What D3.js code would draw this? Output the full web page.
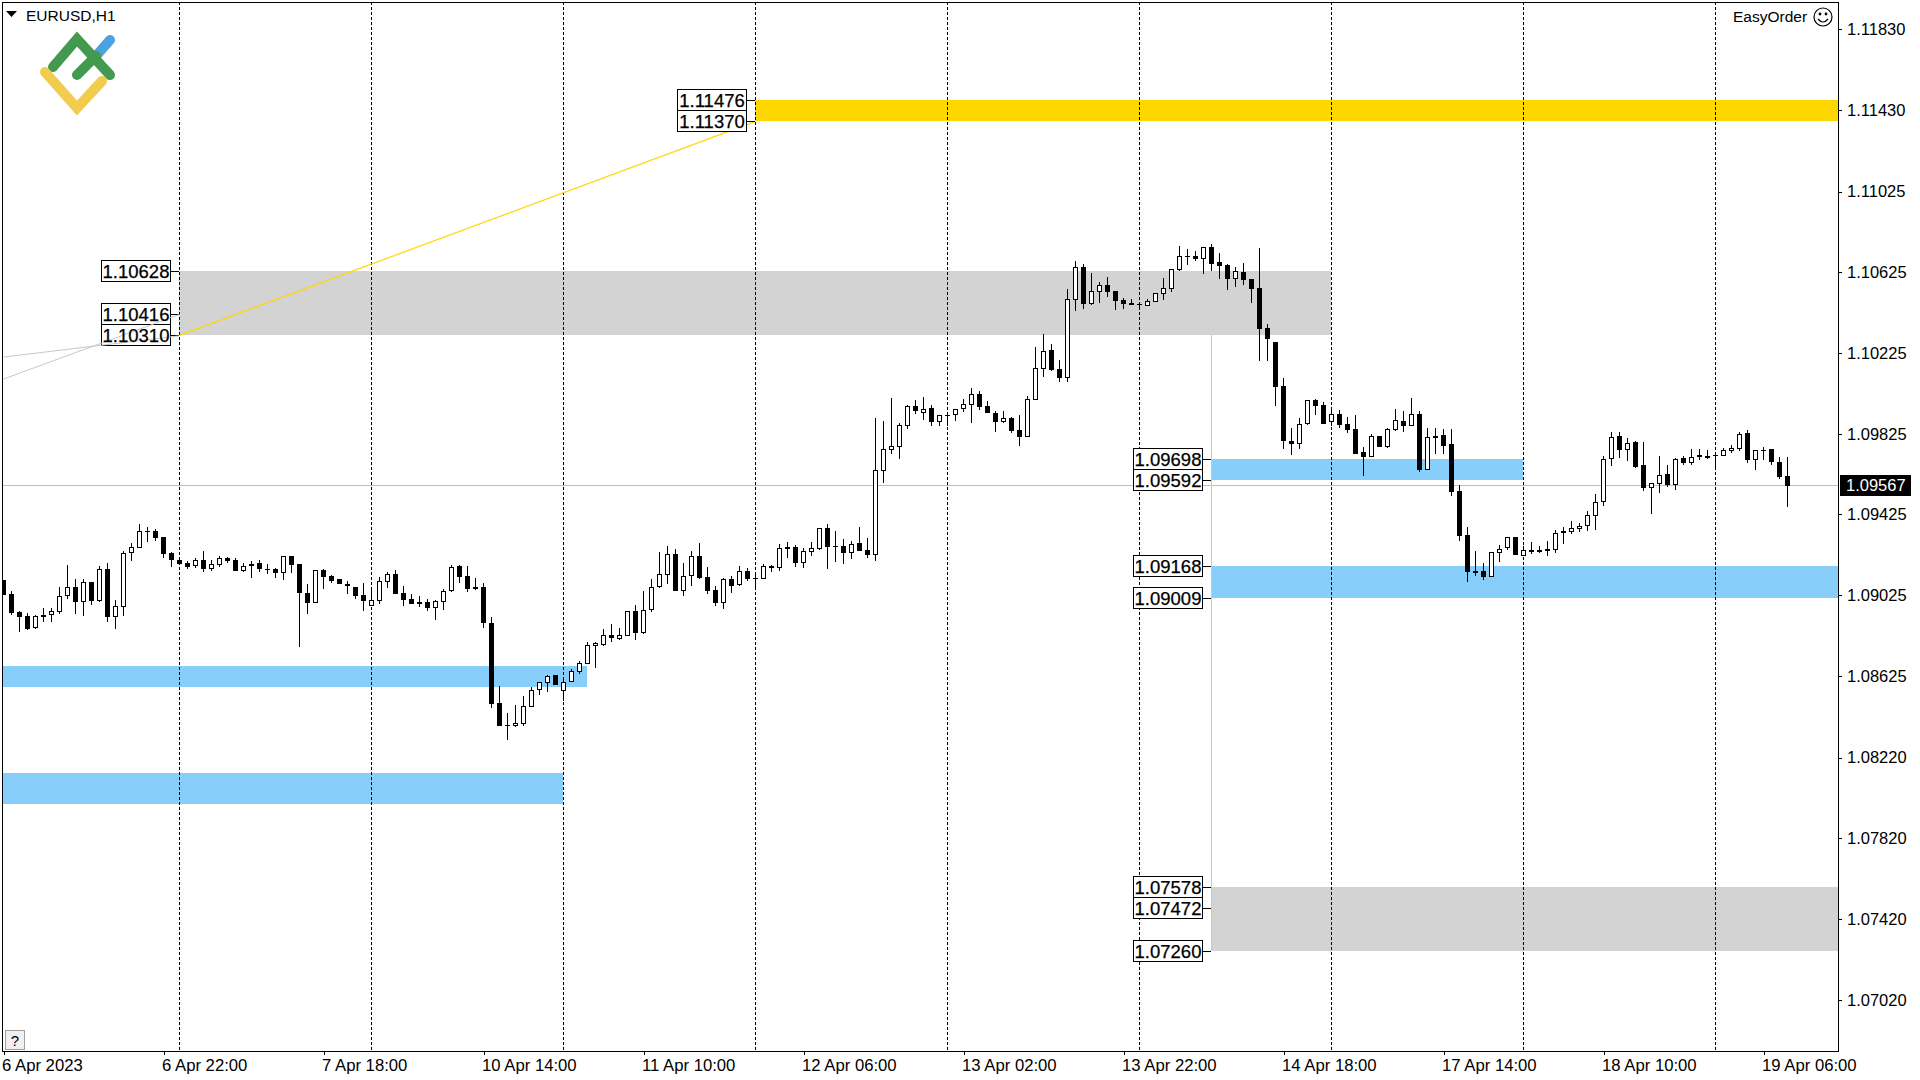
<!DOCTYPE html>
<html>
<head>
<meta charset="utf-8">
<script src="https://cdn.jsdelivr.net/npm/d3@7/dist/d3.min.js"></script>
<style>
html,body{margin:0;padding:0;background:#fff;overflow:hidden}
svg{display:block}
text{font-family:"Liberation Sans",Arial,sans-serif;fill:#000}
</style>
</head>
<body>
<div id="chart"></div>
<script>
const symbolTitle = "EURUSD,H1";
const expertName = "EasyOrder";
const opens = [1.09100,1.09030,1.08941,1.08921,1.08862,1.08926,1.08928,1.08941,1.09022,1.09065,
1.08991,1.09090,1.08996,1.09154,1.08918,1.08968,1.09232,1.09260,1.09341,1.09343,
1.09313,1.09234,1.09199,1.09184,1.09171,1.09199,1.09156,1.09174,1.09209,1.09199,
1.09146,1.09172,1.09184,1.09157,1.09154,1.09136,1.09219,1.09179,1.09035,1.08987,
1.09148,1.09119,1.09105,1.09080,1.09065,1.09025,1.08972,1.08997,1.09091,1.09129,
1.09035,1.09005,1.08991,1.08991,1.08963,1.08992,1.09047,1.09169,1.09119,1.09065,
1.09064,1.08887,1.08490,1.08378,1.08378,1.08386,1.08472,1.08556,1.08591,1.08629,
1.08551,1.08596,1.08646,1.08685,1.08774,1.08779,1.08827,1.08809,1.08824,1.08946,
1.08839,1.08953,1.09067,1.09126,1.09231,1.09047,1.09122,1.09217,1.09115,1.09051,
1.08988,1.09105,1.09077,1.09145,1.09107,1.09107,1.09170,1.09161,1.09264,1.09264,
1.09186,1.09241,1.09255,1.09358,1.09264,1.09269,1.09234,1.09284,1.09249,1.09226,
1.09641,1.09745,1.09760,1.09864,1.09962,1.09929,1.09952,1.09884,1.09917,1.09919,
1.09949,1.09968,1.10021,1.09962,1.09928,1.09885,1.09903,1.09844,1.09811,1.09994,
1.10148,1.10240,1.10146,1.10103,1.10489,1.10651,1.10468,1.10529,1.10562,1.10532,
1.10488,1.10471,1.10465,1.10460,1.10480,1.10519,1.10544,1.10637,1.10704,1.10706,
1.10693,1.10751,1.10676,1.10661,1.10592,1.10627,1.10592,1.10547,1.10349,1.10280,
1.10062,1.09789,1.09774,1.09873,1.09992,1.09967,1.09885,1.09923,1.09873,1.09849,
1.09735,1.09711,1.09814,1.09759,1.09845,1.09888,1.09865,1.09922,1.09646,1.09805,
1.09818,1.09773,1.09541,1.09322,1.09144,1.09144,1.09116,1.09235,1.09260,1.09313,
1.09220,1.09251,1.09248,1.09253,1.09250,1.09342,1.09339,1.09354,1.09369,1.09418,
1.09488,1.09701,1.09813,1.09744,1.09782,1.09669,1.09557,1.09577,1.09625,1.09572,
1.09704,1.09681,1.09719,1.09706,1.09716,1.09716,1.09740,1.09750,1.09828,1.09694,
1.09740,1.09749,1.09684,1.09615];
const highs = [1.09100,1.09045,1.08946,1.08935,1.08926,1.08961,1.08961,1.09065,1.09174,1.09105,
1.09105,1.09090,1.09169,1.09184,1.09001,1.09244,1.09283,1.09377,1.09363,1.09353,
1.09313,1.09239,1.09199,1.09194,1.09209,1.09244,1.09199,1.09219,1.09214,1.09209,
1.09187,1.09192,1.09199,1.09179,1.09159,1.09219,1.09219,1.09179,1.09080,1.09148,
1.09154,1.09124,1.09105,1.09095,1.09065,1.09085,1.09050,1.09115,1.09139,1.09149,
1.09070,1.09030,1.09020,1.09005,1.09001,1.09055,1.09174,1.09174,1.09169,1.09110,
1.09085,1.08917,1.08575,1.08441,1.08480,1.08525,1.08570,1.08594,1.08629,1.08629,
1.08614,1.08659,1.08698,1.08793,1.08793,1.08857,1.08882,1.08862,1.08946,1.08976,
1.09045,1.09105,1.09239,1.09269,1.09256,1.09184,1.09244,1.09284,1.09165,1.09070,
1.09110,1.09120,1.09170,1.09160,1.09140,1.09179,1.09174,1.09279,1.09288,1.09274,
1.09259,1.09288,1.09358,1.09378,1.09343,1.09303,1.09293,1.09363,1.09308,1.09902,
1.09887,1.10001,1.09878,1.09967,1.09992,1.10006,1.09967,1.09920,1.09920,1.09950,
1.09996,1.10051,1.10036,1.09987,1.09938,1.09938,1.09908,1.09918,1.10012,1.10255,
1.10319,1.10270,1.10190,1.10542,1.10681,1.10666,1.10622,1.10577,1.10602,1.10532,
1.10498,1.10493,1.10473,1.10493,1.10523,1.10597,1.10641,1.10755,1.10741,1.10731,
1.10751,1.10765,1.10721,1.10666,1.10651,1.10671,1.10592,1.10746,1.10369,1.10280,
1.10101,1.09853,1.09903,1.09992,1.09997,1.09982,1.09943,1.09943,1.09908,1.09918,
1.09759,1.09824,1.09814,1.09852,1.09948,1.09938,1.10002,1.09937,1.09853,1.09853,
1.09848,1.09848,1.09570,1.09362,1.09243,1.09184,1.09237,1.09273,1.09313,1.09313,
1.09268,1.09288,1.09268,1.09293,1.09347,1.09362,1.09392,1.09382,1.09441,1.09526,
1.09714,1.09833,1.09833,1.09803,1.09788,1.09783,1.09579,1.09714,1.09669,1.09704,
1.09714,1.09749,1.09749,1.09744,1.09734,1.09754,1.09769,1.09833,1.09843,1.09744,
1.09759,1.09749,1.09709,1.09709];
const lows = [1.09026,1.08926,1.08844,1.08852,1.08860,1.08892,1.08892,1.08933,1.09006,1.08931,
1.08921,1.08976,1.08991,1.08892,1.08857,1.08921,1.09194,1.09260,1.09288,1.09293,
1.09209,1.09164,1.09174,1.09154,1.09161,1.09140,1.09144,1.09164,1.09184,1.09144,
1.09139,1.09110,1.09139,1.09129,1.09110,1.09100,1.09134,1.08768,1.08931,1.08987,
1.09055,1.09085,1.09080,1.09030,1.09005,1.08946,1.08972,1.08981,1.09060,1.09030,
1.08971,1.08981,1.08966,1.08946,1.08901,1.08951,1.09040,1.09085,1.09040,1.09050,
1.08862,1.08466,1.08376,1.08307,1.08371,1.08376,1.08472,1.08530,1.08545,1.08579,
1.08500,1.08594,1.08634,1.08685,1.08664,1.08773,1.08793,1.08803,1.08822,1.08803,
1.08832,1.08941,1.09060,1.09080,1.09045,1.09021,1.09070,1.09105,1.09031,1.08971,
1.08956,1.09036,1.09070,1.09095,1.09065,1.09107,1.09140,1.09145,1.09209,1.09165,
1.09160,1.09219,1.09249,1.09155,1.09189,1.09179,1.09204,1.09244,1.09209,1.09194,
1.09580,1.09724,1.09699,1.09848,1.09922,1.09892,1.09863,1.09863,1.09863,1.09887,
1.09932,1.09878,1.09942,1.09928,1.09834,1.09878,1.09829,1.09764,1.09811,1.09994,
1.10106,1.10136,1.10081,1.10081,1.10433,1.10443,1.10463,1.10473,1.10503,1.10438,
1.10443,1.10463,1.10438,1.10458,1.10478,1.10488,1.10527,1.10632,1.10661,1.10681,
1.10617,1.10632,1.10592,1.10537,1.10552,1.10562,1.10473,1.10186,1.10186,1.09963,
1.09749,1.09720,1.09749,1.09868,1.09918,1.09873,1.09863,1.09853,1.09829,1.09725,
1.09615,1.09710,1.09759,1.09754,1.09839,1.09834,1.09865,1.09635,1.09646,1.09724,
1.09724,1.09516,1.09293,1.09090,1.09119,1.09099,1.09116,1.09189,1.09248,1.09223,
1.09218,1.09228,1.09233,1.09218,1.09233,1.09278,1.09327,1.09337,1.09342,1.09347,
1.09466,1.09664,1.09704,1.09689,1.09655,1.09541,1.09427,1.09531,1.09560,1.09546,
1.09669,1.09669,1.09694,1.09699,1.09655,1.09714,1.09729,1.09739,1.09679,1.09645,
1.09694,1.09669,1.09600,1.09461];
const closes = [1.09026,1.08935,1.08916,1.08860,1.08921,1.08918,1.08945,1.09019,1.09068,1.08991,
1.09088,1.08996,1.09154,1.08916,1.08971,1.09234,1.09262,1.09341,1.09343,1.09308,
1.09229,1.09199,1.09179,1.09164,1.09197,1.09154,1.09178,1.09207,1.09194,1.09144,
1.09172,1.09182,1.09154,1.09151,1.09134,1.09217,1.09174,1.09035,1.08986,1.09148,
1.09115,1.09095,1.09080,1.09072,1.09020,1.08996,1.08999,1.09093,1.09129,1.09030,
1.09001,1.08981,1.08981,1.08961,1.08994,1.09048,1.09167,1.09115,1.09055,1.09055,
1.08887,1.08485,1.08376,1.08381,1.08390,1.08474,1.08553,1.08593,1.08627,1.08579,
1.08593,1.08647,1.08687,1.08776,1.08786,1.08826,1.08812,1.08826,1.08945,1.08837,
1.08954,1.09068,1.09128,1.09231,1.09045,1.09118,1.09217,1.09110,1.09046,1.08986,
1.09103,1.09070,1.09143,1.09105,1.09110,1.09168,1.09160,1.09257,1.09254,1.09184,
1.09242,1.09257,1.09356,1.09264,1.09267,1.09234,1.09277,1.09244,1.09224,1.09644,
1.09747,1.09762,1.09866,1.09960,1.09937,1.09950,1.09882,1.09916,1.09920,1.09950,
1.09970,1.10020,1.09957,1.09928,1.09883,1.09901,1.09839,1.09809,1.09996,1.10149,
1.10233,1.10141,1.10101,1.10491,1.10650,1.10468,1.10531,1.10561,1.10527,1.10483,
1.10468,1.10465,1.10468,1.10481,1.10521,1.10546,1.10640,1.10704,1.10708,1.10693,
1.10749,1.10666,1.10656,1.10592,1.10630,1.10587,1.10542,1.10344,1.10295,1.10057,
1.09789,1.09774,1.09872,1.09991,1.09963,1.09873,1.09921,1.09868,1.09844,1.09725,
1.09710,1.09812,1.09759,1.09847,1.09891,1.09863,1.09921,1.09645,1.09807,1.09816,
1.09764,1.09536,1.09318,1.09139,1.09134,1.09114,1.09237,1.09256,1.09311,1.09223,
1.09247,1.09238,1.09238,1.09243,1.09331,1.09332,1.09356,1.09370,1.09420,1.09489,
1.09702,1.09811,1.09744,1.09777,1.09660,1.09555,1.09579,1.09623,1.09570,1.09702,
1.09679,1.09712,1.09709,1.09717,1.09719,1.09742,1.09752,1.09826,1.09694,1.09742,
1.09744,1.09684,1.09610,1.09565];

const priceTicks = [1.11830,1.11430,1.11025,1.10625,1.10225,1.09825,1.09425,1.09025,1.08625,1.08220,1.07820,1.07420,1.07020];
const timeTickBars = [0,20,40,60,80,100,120,140,160,180,200,220];
const timeTickLabels = ["6 Apr 2023","6 Apr 22:00","7 Apr 18:00","10 Apr 14:00","11 Apr 10:00","12 Apr 06:00","13 Apr 02:00","13 Apr 22:00","14 Apr 18:00","17 Apr 14:00","18 Apr 10:00","19 Apr 06:00"];
const separatorBars = [22,46,70,94,118,142,166,190,214];
const bidPrice = 1.09567;

const zoneFrom = [94,22,151,151,151,-1,-1];
const zoneTo = [230,166,190,230,230,73,70];
const zoneHigh = [1.11476,1.10628,1.09698,1.09168,1.07578,1.08674,1.08144];
const zoneLow = [1.11370,1.10310,1.09592,1.09009,1.07260,1.08570,1.07988];
const zoneFill = ["#ffd700","#d3d3d3","#87cefa","#87cefa","#d3d3d3","#87cefa","#87cefa"];

const tagPrices = [1.10628,1.10416,1.10310,1.11476,1.11370,1.09698,1.09592,1.09168,1.09009,1.07578,1.07472,1.07260];
const tagBars = [22,22,22,94,94,151,151,151,151,151,151,151];
const greyFromPrices = [1.10205,1.10096];
const greyToPrices = [1.10310,1.10416];

const width = 1920, height = 1080;
const plotLeft = 2, plotRight = 1838, plotTop = 2, plotBottom = 1051;

const x = d3.scaleLinear().domain([0,223]).range([3.5,1787.5]);
const y = d3.scaleLinear().domain([1.11974,1.06623]).range([0,1080]);
const col = i => Math.floor(x(i));
const row = p => Math.floor(y(p));

const svg = d3.select("#chart").append("svg").attr("width",width).attr("height",height);
svg.append("defs").append("clipPath").attr("id","plot").append("rect")
  .attr("x",plotLeft+1).attr("y",plotTop+1).attr("width",plotRight-plotLeft-1).attr("height",plotBottom-plotTop-1);

const plot = svg.append("g").attr("clip-path","url(#plot)").attr("shape-rendering","crispEdges");

// zones
plot.append("g").selectAll("rect").data(zoneFrom).join("rect")
  .attr("x",d=>col(d))
  .attr("width",(d,i)=>col(zoneTo[i])-col(d))
  .attr("y",(d,i)=>row(zoneHigh[i]))
  .attr("height",(d,i)=>row(zoneLow[i])-row(zoneHigh[i]))
  .attr("fill",(d,i)=>zoneFill[i]);

// bid line and vertical connector
plot.append("rect").attr("x",plotLeft).attr("width",plotRight-plotLeft)
  .attr("y",row(bidPrice)).attr("height",1).attr("fill","#c0c0c0");
plot.append("rect").attr("x",col(151)).attr("width",1)
  .attr("y",row(1.10310)).attr("height",row(1.07260)-row(1.10310)).attr("fill","#c8c8c8");

// period separators
plot.append("g").selectAll("line").data(separatorBars).join("line")
  .attr("x1",d=>col(d)+0.5).attr("x2",d=>col(d)+0.5)
  .attr("y1",plotTop).attr("y2",plotBottom)
  .attr("stroke","#000").attr("stroke-width",1).attr("stroke-dasharray","3,2");

// yellow trend between zones
const trend = svg.append("g").attr("clip-path","url(#plot)");
trend.append("line").attr("x1",x(22)).attr("y1",y(1.10310)-0.5).attr("x2",x(94)).attr("y2",y(1.11370)-0.5)
  .attr("stroke","#ffd700").attr("stroke-width",1.2);

// candles
const bars = opens.map((o,i)=>({i,o,h:highs[i],l:lows[i],c:closes[i]}));
const candle = plot.append("g").selectAll("g").data(bars).join("g");
candle.append("rect").attr("x",d=>col(d.i)).attr("width",1)
  .attr("y",d=>Math.round(y(d.h))).attr("height",d=>Math.max(1,Math.round(y(d.l))-Math.round(y(d.h))))
  .attr("fill","#000");
candle.append("rect").attr("x",d=>col(d.i)-2).attr("width",5)
  .attr("y",d=>Math.round(y(Math.max(d.o,d.c))))
  .attr("height",d=>Math.max(1,Math.round(y(Math.min(d.o,d.c)))-Math.round(y(Math.max(d.o,d.c)))))
  .attr("fill","#000");
candle.filter(d=>d.c>=d.o && Math.round(y(d.o))-Math.round(y(d.c))>2).append("rect")
  .attr("x",d=>col(d.i)-1).attr("width",3)
  .attr("y",d=>Math.round(y(d.c))+1)
  .attr("height",d=>Math.round(y(d.o))-Math.round(y(d.c))-2)
  .attr("fill","#fff");

// price tags
const tagW = 69, tagH = 22, tagGap = 9;
const tags = svg.append("g");
tagPrices.forEach((p,i)=>{
  const xr = col(tagBars[i]);
  const yy = row(p);
  const g = tags.append("g");
  g.append("rect").attr("x",xr-tagGap).attr("y",yy).attr("width",tagGap).attr("height",1).attr("fill","#000").attr("shape-rendering","crispEdges");
  g.append("rect").attr("x",xr-tagGap-tagW+0.5).attr("y",yy-10.5).attr("width",tagW).attr("height",tagH-1)
    .attr("fill","#fff").attr("stroke","#000").attr("stroke-width",1).attr("shape-rendering","crispEdges");
});
// grey connectors coming from off-chart
svg.append("g").selectAll("line").data(greyFromPrices).join("line")
  .attr("x1",x(0)).attr("x2",x(22))
  .attr("y1",d=>y(d)).attr("y2",(d,i)=>y(greyToPrices[i]))
  .attr("stroke","#c8c8c8").attr("stroke-width",1);
const tagTexts = svg.append("g");
tagPrices.forEach((p,i)=>{
  tagTexts.append("text").attr("x",col(tagBars[i])-tagGap-tagW/2+0.5).attr("y",row(p)+6.5)
    .attr("text-anchor","middle").attr("font-size",18.5).style("stroke","#000").style("stroke-width",0.25)
    .text(p.toFixed(5));
});

// frame
const frame = svg.append("g").attr("shape-rendering","crispEdges");
frame.append("rect").attr("x",plotLeft+0.5).attr("y",plotTop+0.5).attr("width",plotRight-plotLeft).attr("height",plotBottom-plotTop)
  .attr("fill","none").attr("stroke","#000").attr("stroke-width",1);

// axes
const yAxis = d3.axisRight(y).tickValues(priceTicks).tickSize(4).tickPadding(5).tickFormat(d3.format(".5f"));
const ya = svg.append("g").attr("transform",`translate(${plotRight},0)`).call(yAxis);
ya.select(".domain").remove();
ya.selectAll("line").attr("stroke","#000").attr("shape-rendering","crispEdges");
ya.selectAll("text").attr("font-size",16.5).attr("font-family",'"Liberation Sans",Arial,sans-serif');

const xAxis = d3.axisBottom(x).tickValues(timeTickBars).tickSize(4).tickPadding(4).tickFormat((d,i)=>timeTickLabels[i]);
const xa = svg.append("g").attr("transform",`translate(0,${plotBottom})`).call(xAxis);
xa.select(".domain").remove();
xa.selectAll("line").attr("stroke","#000").attr("shape-rendering","crispEdges");
xa.selectAll("text").attr("font-size",16.7).attr("text-anchor","start").attr("dx",-2).attr("font-family",'"Liberation Sans",Arial,sans-serif');

// bid label
svg.append("rect").attr("x",1840).attr("y",row(bidPrice)-10).attr("width",71).attr("height",21).attr("fill","#000");
svg.append("text").attr("x",1846).attr("y",row(bidPrice)+6).attr("font-size",16.5).style("fill","#fff").text(bidPrice.toFixed(5));

// header
svg.append("path").attr("d","M6,11H17L11.5,17Z").attr("fill","#000");
svg.append("text").attr("x",26).attr("y",20.5).attr("font-size",15.5).text(symbolTitle);
svg.append("text").attr("x",1733).attr("y",22).attr("font-size",15.5).text(expertName);
const smile = svg.append("g").attr("fill","none").attr("stroke","#000").attr("stroke-width",1.2);
smile.append("circle").attr("cx",1823).attr("cy",17).attr("r",9);
smile.append("path").attr("d","M1818,19Q1823,25 1828,19");
smile.append("circle").attr("cx",1820).attr("cy",14).attr("r",0.8).attr("fill","#000");
smile.append("circle").attr("cx",1826).attr("cy",14).attr("r",0.8).attr("fill","#000");

// logo
const logo = svg.append("g").attr("fill","none").attr("stroke-width",10).attr("stroke-linecap","round").attr("stroke-linejoin","miter");
logo.append("path").attr("stroke","#4aa3e0").attr("d","M96,56L110,40");
logo.append("path").attr("stroke","#439a4e").attr("d","M53,67L77,39L110,75");
logo.append("path").attr("stroke","#439a4e").attr("d","M77,75L96,56");
logo.append("path").attr("stroke","#f2cc4e").attr("d","M45,72L77,108L102,81");

// help box
svg.append("rect").attr("x",5.5).attr("y",1030.5).attr("width",19).attr("height",19).attr("fill","#f0f0f0").attr("stroke","#a0a0a0");
svg.append("text").attr("x",15).attr("y",1046).attr("text-anchor","middle").attr("font-size",15).text("?");
</script>
</body>
</html>
